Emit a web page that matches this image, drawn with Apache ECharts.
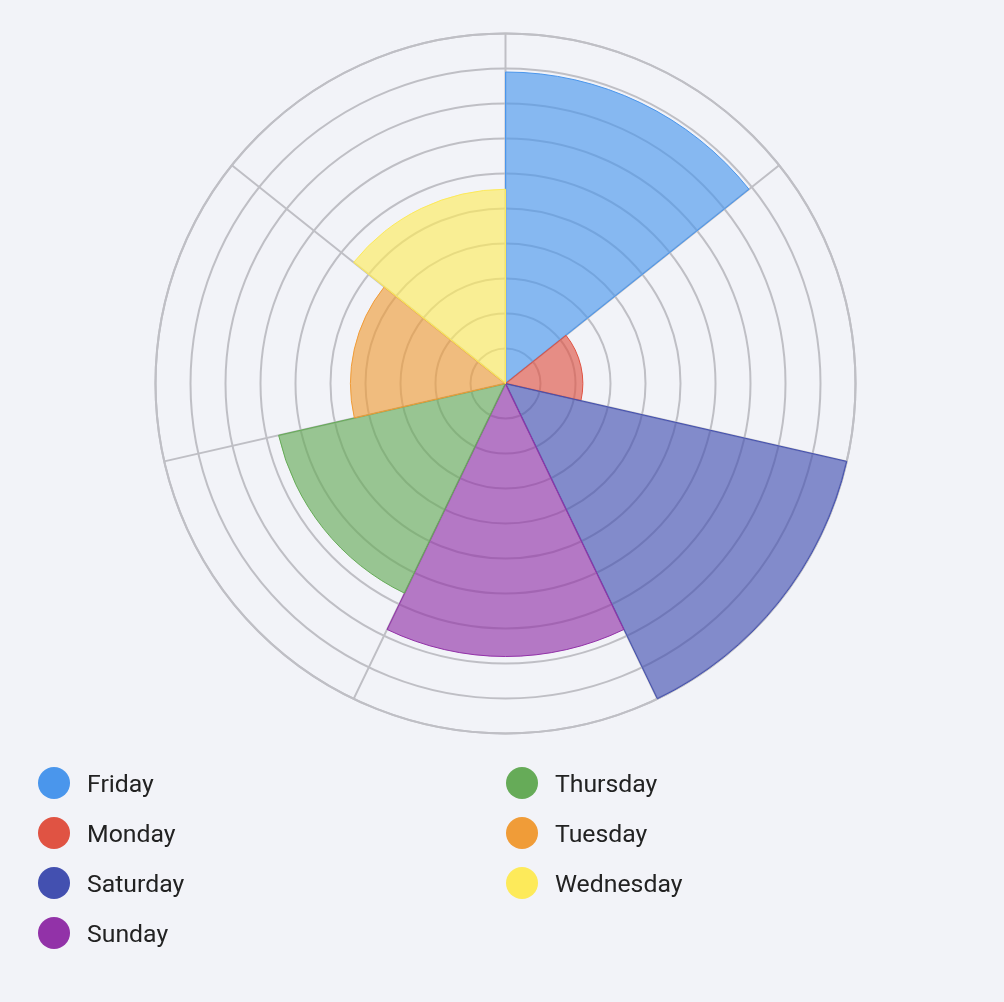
<!DOCTYPE html>
<html>
<head>
<meta charset="utf-8">
<script src="https://cdn.jsdelivr.net/npm/echarts@6/dist/echarts.min.js"></script>
<style>
html,body{margin:0;padding:0;background:#f2f3f8;}
#c{width:1004px;height:1002px;}
</style>
</head>
<body>
<div id="c"></div>
<script>
var categories = ['Friday','Monday','Saturday','Sunday','Thursday','Tuesday','Wednesday'];
var values = [8.9, 2.21, 10, 7.8, 6.65, 4.43, 5.55];
var colors = ['#4a96ec','#e05343','#4350b0','#9232a8','#66ab58','#f09c38','#fdea5a'];
var radiusTicks = [0,1,2,3,4,5,6,7,8,9,10];

function hexA(h,a){
  var r=parseInt(h.substr(1,2),16),g=parseInt(h.substr(3,2),16),b=parseInt(h.substr(5,2),16);
  return 'rgba('+r+','+g+','+b+','+a+')';
}

var series = categories.map(function(name,i){
  var d = categories.map(function(c,j){ return j===i ? values[i] : null; });
  return {
    name: name,
    type: 'bar',
    coordinateSystem: 'polar',
    stack: 'all',
    barCategoryGap: '0%',
    data: d,
    itemStyle: { color: hexA(colors[i],0.64), borderColor: colors[i], borderWidth: 1 },
    emphasis: { disabled: true }
  };
});

var legendText = {
  fontFamily: 'Roboto', fontSize: 24.8, color: '#222',
  rich: { t: { fontFamily: 'Roboto', fontSize: 24.8, color: '#222', padding: [6, 0, 0, 12] } }
};
function fmt(n){ return '{t|' + n + '}'; }

var chart = echarts.init(document.getElementById('c'));
chart.setOption({
  backgroundColor: '#f2f3f8',
  animation: false,
  color: colors,
  polar: { center: [505.5, 383.5], radius: 350 },
  angleAxis: {
    type: 'category',
    data: categories,
    startAngle: 90,
    clockwise: true,
    axisLine: { show: true, lineStyle: { color: '#bfbfc5', width: 2 } },
    axisTick: { show: false },
    axisLabel: { show: false },
    splitLine: { show: true, lineStyle: { color: '#bfbfc5', width: 2 } }
  },
  radiusAxis: {
    type: 'value',
    min: radiusTicks[0],
    max: radiusTicks[radiusTicks.length-1],
    interval: 1,
    axisLine: { show: false },
    axisTick: { show: false },
    axisLabel: { show: false },
    splitLine: { show: true, lineStyle: { color: '#bfbfc5', width: 2 } }
  },
  legend: [
    {
      orient: 'vertical', left: 33, top: 762,
      data: categories.slice(0,4).map(function(n,i){ return { name: n, itemStyle: { color: colors[i], borderWidth: 0 } }; }),
      icon: 'circle', itemWidth: 32, itemHeight: 32, itemGap: 18,
      selectedMode: false, formatter: fmt,
      textStyle: legendText
    },
    {
      orient: 'vertical', left: 501, top: 762,
      data: categories.slice(4).map(function(n,i){ return { name: n, itemStyle: { color: colors[i+4], borderWidth: 0 } }; }),
      icon: 'circle', itemWidth: 32, itemHeight: 32, itemGap: 18,
      selectedMode: false, formatter: fmt,
      textStyle: legendText
    }
  ],
  series: series
});
</script>
</body>
</html>
